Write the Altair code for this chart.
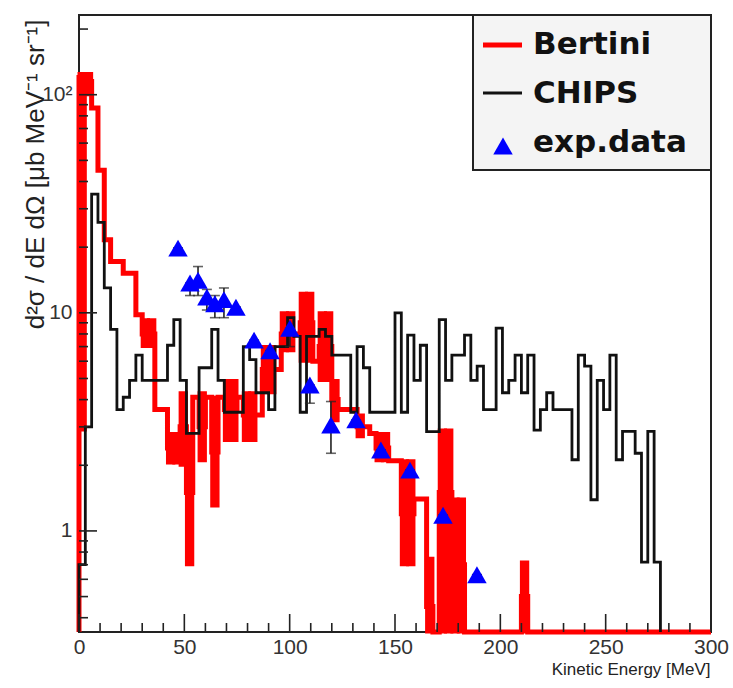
import altair as alt
import pandas as pd

# ---------------- data ----------------
BIN_WIDTH = 3  # MeV
FLOOR = 0.1    # stands for "empty bin" (drawn at the bottom of the log axis)

# CHIPS histogram, bins of 3 MeV starting at 0 (last bin ends at 276 MeV)
chips_vals = [0.7, 3.0, 35, 26, 13, 8.4, 3.6, 4.1, 4.9, 6.4,        # 0-30
              4.9, 4.9, 4.9, 4.9, 7.1, 9.3, 4.9, 2.8, 2.8, 5.6,     # 30-60
              5.6, 8.4, 4.9, 3.5, 3.5, 3.5, 7.0, 6.1, 4.3, 4.3,     # 60-90
              3.6, 7.0, 7.0, 9.5, 7.8, 3.5, 7.8, 7.8, 8.4, 7.8,     # 90-120
              6.4, 6.4, 6.4, 3.5, 7.0, 5.6, 3.5, 3.5, 3.5, 3.5,     # 120-150
              10, 3.5, 7.9, 4.9, 7.1, 2.85, 2.85, 9.3, 4.9, 6.4,    # 150-180
              6.4, 7.9, 4.9, 5.7, 3.6, 3.6, 8.5, 4.3, 4.9, 6.4,     # 180-210
              4.3, 6.4, 2.9, 3.6, 4.3, 3.6, 3.6, 3.6, 2.12, 6.4,    # 210-240
              5.7, 1.39, 4.9, 3.6, 6.4, 2.12, 2.86, 2.86, 2.27, 0.72,  # 240-270
              2.86, 0.72]                                            # 270-276

# Bertini histogram, bins of 3 MeV from 0 to 300 (0 = empty bin)
bert_vals = [120, 115, 87, 45, 21.6, 17.2, 17.2, 15.2, 15.2, 9.8,   # 0-30
             8.0, 8.0, 3.6, 3.6, 2.4, 2.4, 3.0, 1.5, 4.1, 3.0,      # 30-60
             4.1, 2.3, 4.1, 3.6, 3.6, 4.1, 3.4, 3.4, 3.4, 5.5,      # 60-90
             5.5, 5.5, 8.0, 8.0, 8.0, 9.0, 9.0, 6.0, 7.0, 7.0,      # 90-120
             4.0, 3.6, 3.6, 3.6, 3.0, 3.0, 2.8, 2.4, 2.4, 2.1,      # 120-150
             2.1, 1.2, 1.2, 1.4, 1.4, 0.45, 0, 1.5, 1.5, 0.7,       # 150-180
             0.7, 0, 0, 0, 0, 0, 0, 0, 0, 0,                        # 180-210
             0.5, 0, 0, 0, 0, 0, 0, 0, 0, 0,                        # 210-240
             0, 0, 0, 0, 0, 0, 0, 0, 0, 0,                          # 240-270
             0, 0, 0, 0, 0, 0, 0, 0, 0, 0]                          # 270-300

# Bertini error boxes: bin start [MeV], lower and upper edge
box_start = [0, 3, 30, 33, 42, 45, 48, 51, 57, 63, 69, 72, 78, 81,
             87, 90, 96, 99, 105, 108, 114, 117, 120, 132, 141, 144,
             153, 156, 165, 171, 174, 177, 180, 210]
box_lo = [2.9, 100, 7.0, 7.0, 2.05, 2.05, 2.0, 0.7, 2.1, 1.3, 2.6, 2.6, 2.6, 2.6,
          4.3, 4.3, 6.7, 6.7, 6.0, 6.0, 4.9, 4.9, 3.2, 2.7, 2.1, 2.1,
          0.7, 0.7, 0.1, 0.1, 0.1, 0.1, 0.1, 0.1]
box_hi = [125, 125, 9.3, 9.3, 2.8, 2.8, 4.3, 2.8, 4.3, 4.1, 4.9, 4.9, 4.3, 4.3,
          7.0, 7.0, 10.0, 10.0, 12.3, 12.3, 10.0, 10.0, 4.9, 3.4, 2.8, 2.8,
          2.1, 2.1, 0.75, 2.9, 2.9, 1.4, 1.4, 0.72]

# experimental data
exp_x = [47.0, 52.7, 56.5, 60.7, 64.5, 68.8, 74.5, 83.1, 90.7, 100.1,
         109.6, 119.6, 131.5, 143.3, 157.1, 172.8, 188.9]
exp_y = [19.8, 13.7, 14.1, 11.8, 11.0, 11.5, 10.6, 7.5, 6.7, 8.5,
         4.67, 3.06, 3.23, 2.35, 1.9, 1.18, 0.63]
exp_lo = [19.8, 12.0, 12.0, 10.3, 9.5, 9.5, 10.6, 7.0, 6.7, 7.0,
          3.85, 2.27, 3.0, 2.35, 1.9, 1.18, 0.63]
exp_hi = [19.8, 13.7, 16.3, 12.8, 12.0, 13.0, 10.6, 7.5, 6.7, 8.5,
          4.67, 3.92, 3.23, 2.35, 1.9, 1.18, 0.63]

x_major = [0, 50, 100, 150, 200, 250, 300]
x_minor = [v for v in range(0, 301, 10) if v % 50]
y_major = [1, 10, 100]
y_minor = [0.4, 0.5, 0.6, 0.7, 0.8, 0.9, 2, 3, 4, 5, 6, 7, 8, 9,
           20, 30, 40, 50, 60, 70, 80, 90, 200]

legend_labels = ["Bertini", "CHIPS", "exp.data"]

# ---------------- layout constants ----------------
W, H = 632, 617
RED = "#ff0000"
BLUE = "#0000ff"
FRAME = "#222222"
LABEL_FONT = "Liberation Sans"


def step_frame(vals, close_at_end):
    rows = [{"x": 0.0, "y": FLOOR, "o": 0}]
    for i, v in enumerate(vals):
        rows.append({"x": i * BIN_WIDTH, "y": v if v > 0 else FLOOR, "o": i + 1})
    n = len(vals)
    last = vals[-1] if vals[-1] > 0 else FLOOR
    rows.append({"x": n * BIN_WIDTH, "y": last, "o": n + 1})
    if close_at_end:
        rows.append({"x": n * BIN_WIDTH, "y": FLOOR, "o": n + 2})
    return pd.DataFrame(rows)


chips_df = step_frame(chips_vals, True)
bert_df = step_frame(bert_vals, False)
box_df = pd.DataFrame({"x": box_start,
                       "x2": [s + BIN_WIDTH for s in box_start],
                       "lo": box_lo, "hi": box_hi})
exp_df = pd.DataFrame({"x": exp_x, "y": exp_y, "lo": exp_lo, "hi": exp_hi})
xmaj_df = pd.DataFrame({"x": x_major})
xmin_df = pd.DataFrame({"x": x_minor})
ymaj_df = pd.DataFrame({"y": y_major})
ymin_df = pd.DataFrame({"y": y_minor})

xs = alt.Scale(domain=[0, 300], nice=False, zero=False)
ys = alt.Scale(type="log", domain=[0.344, 232], nice=False, clamp=True)

x_axis = alt.Axis(values=x_major, ticks=False, domain=False, grid=False,
                  labelFont=LABEL_FONT, labelFontSize=21, labelColor="#333",
                  labelPadding=4, labelFlush=False,
                  title="Kinetic Energy [MeV]", titleFont=LABEL_FONT,
                  titleFontSize=17, titleFontWeight="normal", titleColor="#222",
                  titleAnchor="end", titleAlign="right", titleBaseline="middle",
                  titleX=W - 1, titleY=37)
y_axis = alt.Axis(values=y_major, ticks=False, domain=False, grid=False,
                  labelFont=LABEL_FONT, labelFontSize=21, labelColor="#333",
                  labelPadding=7, labelFlush=False,
                  labelExpr="datum.value == 100 ? '10²' : datum.label",
                  title="d²σ / dE dΩ  [μb MeV⁻¹ sr⁻¹]", titleFont=LABEL_FONT,
                  titleFontSize=26, titleFontWeight="normal", titleColor="#222",
                  titleAngle=270, titleAlign="right", titleBaseline="middle",
                  titleX=-44, titleY=4)


def X(field):
    return alt.X(field, type="quantitative", scale=xs, axis=x_axis)


def Y(field):
    return alt.Y(field, type="quantitative", scale=ys, axis=y_axis)


boxes = alt.Chart(box_df).mark_rect(color=RED, stroke=RED, strokeWidth=3).encode(
    x=X("x"), x2="x2", y=Y("lo"), y2="hi")

bert_line = alt.Chart(bert_df).mark_line(
    interpolate="step-after", color=RED, strokeWidth=5).encode(
    x=X("x"), y=Y("y"), order="o:Q")

chips_line = alt.Chart(chips_df).mark_line(
    interpolate="step-after", color="#111111", strokeWidth=2.8).encode(
    x=X("x"), y=Y("y"), order="o:Q")

err_bars = alt.Chart(exp_df).mark_rule(color="#222", strokeWidth=1.6).encode(
    x=X("x"), y=Y("lo"), y2="hi")
err_caps_hi = alt.Chart(exp_df).mark_tick(color="#222", thickness=1.6, size=10,
                                          orient="horizontal").encode(x=X("x"), y=Y("hi"))
err_caps_lo = alt.Chart(exp_df).mark_tick(color="#222", thickness=1.6, size=10,
                                          orient="horizontal").encode(x=X("x"), y=Y("lo"))
points = alt.Chart(exp_df).mark_point(shape="triangle-up", filled=True, size=380,
                                      color=BLUE, opacity=1).encode(x=X("x"), y=Y("y"))

tick_style = dict(color=FRAME, strokeWidth=1.6)
xmaj = alt.Chart(xmaj_df).mark_rule(**tick_style).encode(
    x=X("x"), y=alt.value(H), y2=alt.value(H - 18))
xmin = alt.Chart(xmin_df).mark_rule(**tick_style).encode(
    x=X("x"), y=alt.value(H), y2=alt.value(H - 9))
ymaj = alt.Chart(ymaj_df).mark_rule(**tick_style).encode(
    y=Y("y"), x=alt.value(0), x2=alt.value(18))
ymin = alt.Chart(ymin_df).mark_rule(**tick_style).encode(
    y=Y("y"), x=alt.value(0), x2=alt.value(9))

# legend (ROOT TLegend style box)
one = pd.DataFrame({"k": [0]})
leg_box = alt.Chart(one).mark_rect(fill="#f4f4f4", stroke=FRAME, strokeWidth=2).encode(
    x=alt.value(394), x2=alt.value(W), y=alt.value(0), y2=alt.value(155))
leg_red = alt.Chart(one).mark_rule(color=RED, strokeWidth=5).encode(
    x=alt.value(404), x2=alt.value(443), y=alt.value(30))
leg_blk = alt.Chart(one).mark_rule(color="#111111", strokeWidth=2.8).encode(
    x=alt.value(404), x2=alt.value(443), y=alt.value(78))
leg_tri = alt.Chart(one).mark_point(shape="triangle-up", filled=True, size=380,
                                    color=BLUE, opacity=1).encode(
    x=alt.value(424), y=alt.value(131))

text_style = dict(font="DejaVu Sans", fontWeight="bold", fontSize=31, align="left",
                  baseline="middle", color="#111")
leg_texts = [
    alt.Chart(pd.DataFrame({"label": [lab]})).mark_text(**text_style).encode(
        x=alt.value(454), y=alt.value(yy), text="label:N")
    for lab, yy in zip(legend_labels, [30, 79, 128])
]

chart = alt.layer(
    boxes, bert_line, chips_line, err_bars, err_caps_hi, err_caps_lo, points,
    xmaj, xmin, ymaj, ymin,
    leg_box, leg_red, leg_blk, leg_tri, *leg_texts
).properties(
    width=W, height=H,
    padding={"left": 79, "top": 15, "right": 22, "bottom": 56},
    autosize=alt.AutoSizeParams(type="none"),
    background="white",
).configure_view(stroke=FRAME, strokeWidth=2)

chart.save("out.html", embed_options={"renderer": "svg", "actions": False})
